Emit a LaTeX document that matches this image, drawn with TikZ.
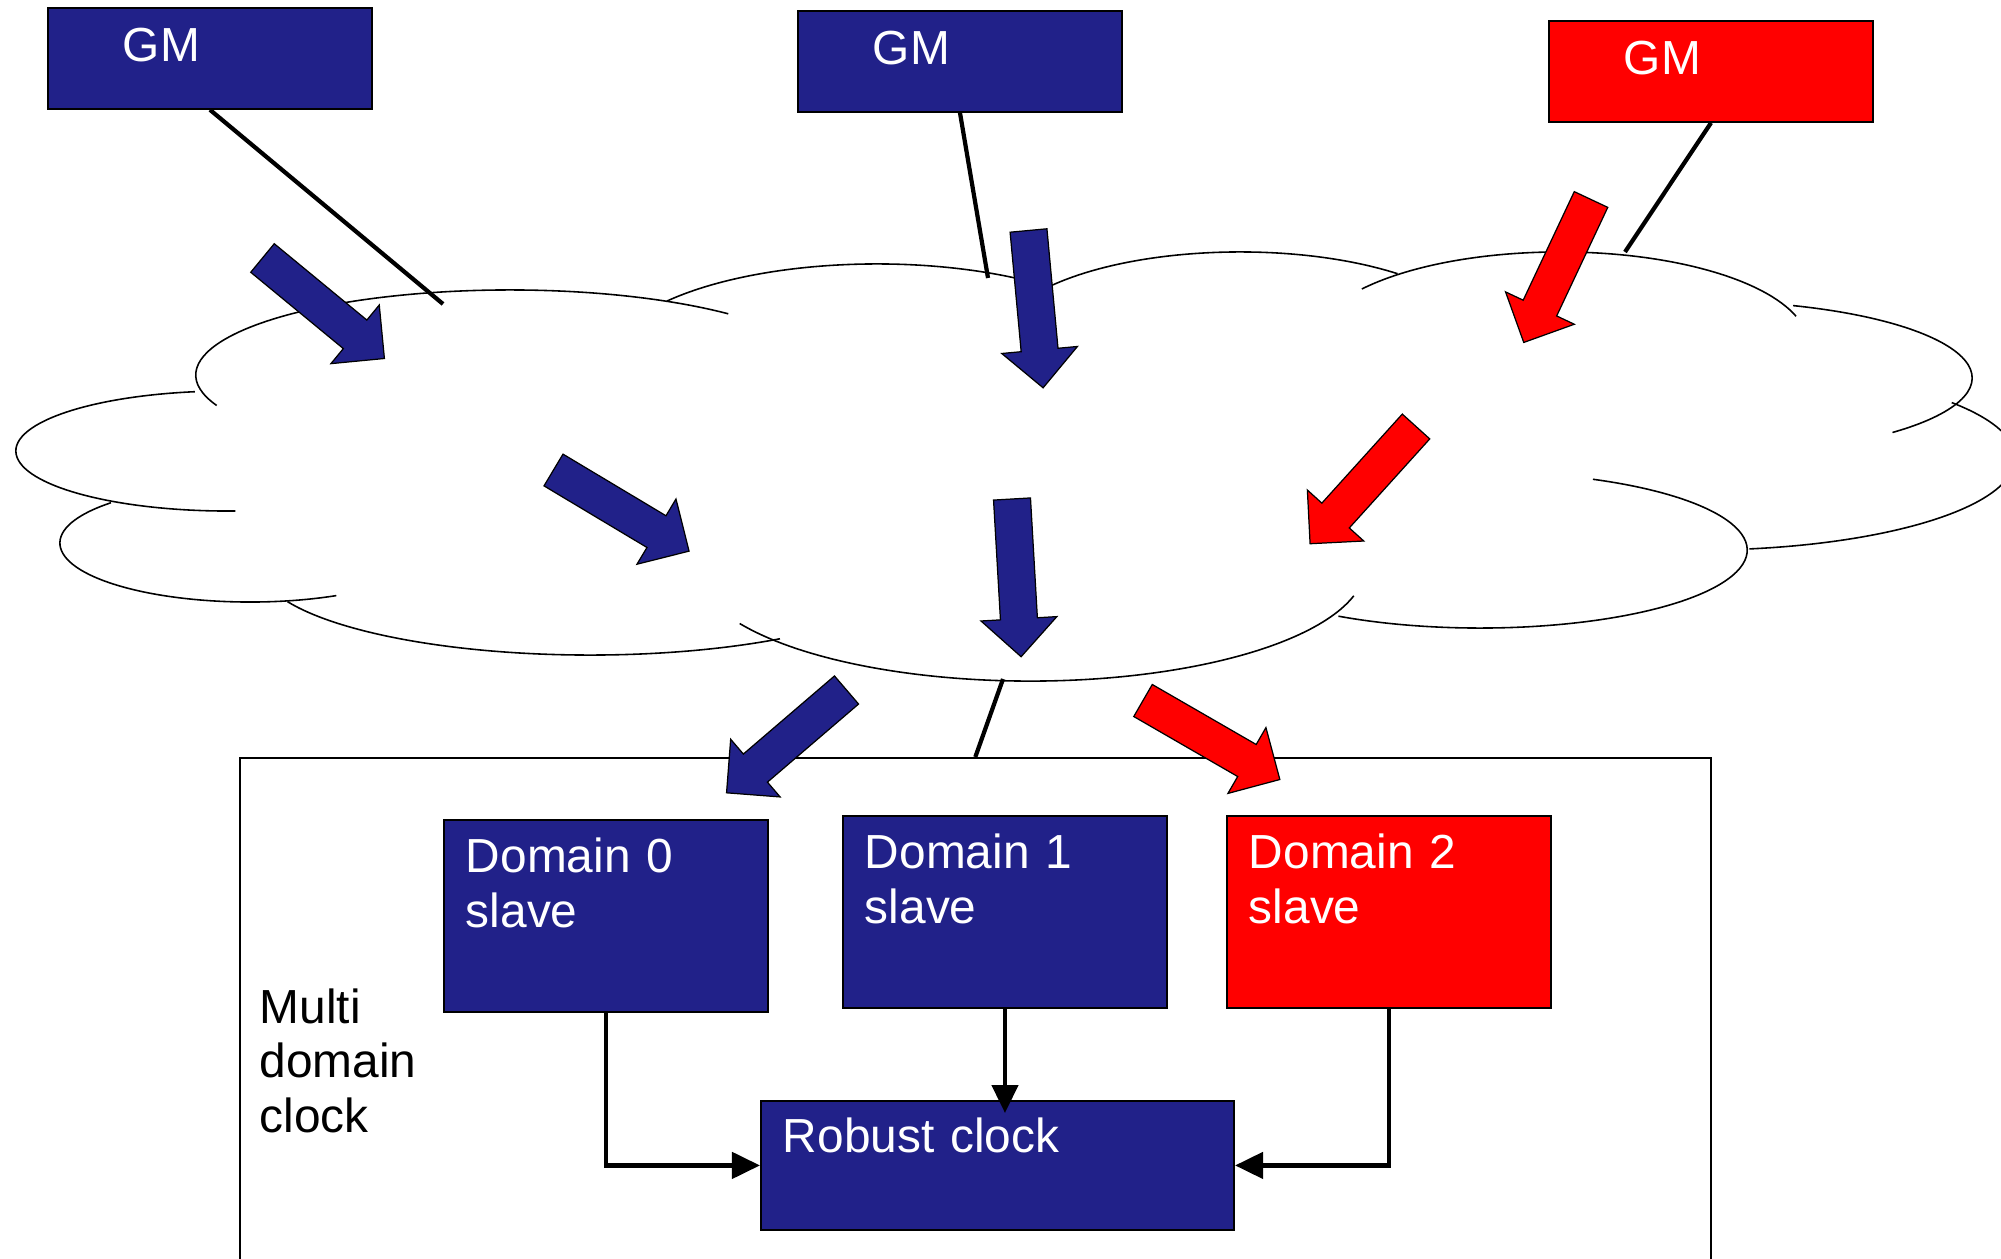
\documentclass[tikz,border=0pt]{standalone}
\usepackage{fontspec}
\setmainfont{Liberation Sans}
\usetikzlibrary{arrows.meta}

\definecolor{navy}{RGB}{33,33,137}
\definecolor{merah}{RGB}{255,0,0}

\tikzset{
  box/.style={draw=black, line width=0.5pt, fill=navy, text=white, anchor=north west,
    inner ysep=0pt, align=left, font=\fontsize{13.6pt}{15.4pt}\selectfont},
  gmbox/.style={box, inner xsep=0.75cm, text width=1.74cm, text height=0.54cm, text depth=0.47cm},
  slavebox/.style={box, inner xsep=0.22cm, text width=2.80cm, text height=0.53cm, text depth=1.39cm},
  cloudline/.style={line width=0.45pt},
  gmline/.style={line width=1.2pt},
  sync/.style={line width=1.3pt, -{Triangle[length=0.28cm,width=0.26cm]}},
  bigarrow/.style={draw=black, line width=0.35pt, fill=#1,
    insert path={(0,-18.5) -- (120,-18.5) -- (120,-38) -- (158,0) -- (120,38) -- (120,18.5) -- (0,18.5) -- cycle}},
}

\begin{document}
\begin{tikzpicture}[x=0.01cm, y=-0.01cm]
    \useasboundingbox (0,0) rectangle (2001,1258);
    \clip (0,0) rectangle (2001,1258);

    % Gambar awan (jaringan)
    \draw[cloudline] ([shift={(201:3.14cm and 0.85cm)}]510,375) arc[start angle=201, end angle=46, x radius=3.14cm, y radius=0.85cm];
    \draw[cloudline] ([shift={(141:2.70cm and 1.00cm)}]877,364) arc[start angle=141, end angle=50, x radius=2.70cm, y radius=1.00cm];
    \draw[cloudline] ([shift={(140:2.45cm and 0.93cm)}]1240,345) arc[start angle=140, end angle=50, x radius=2.45cm, y radius=0.93cm];
    \draw[cloudline] ([shift={(143:2.48cm and 0.93cm)}]1560,345) arc[start angle=143, end angle=18, x radius=2.48cm, y radius=0.93cm];
    \draw[cloudline] ([shift={(70:2.72cm and 0.77cm)}]1700,378) arc[start angle=70, end angle=-45, x radius=2.72cm, y radius=0.77cm];
    \draw[cloudline] ([shift={(37:3.15cm and 0.92cm)}]1700,458) arc[start angle=37, end angle=-81, x radius=3.15cm, y radius=0.92cm];
    \draw[cloudline] ([shift={(65:2.67cm and 0.78cm)}]1480,550) arc[start angle=65, end angle=-122, x radius=2.67cm, y radius=0.78cm];
    \draw[cloudline] ([shift={(210:3.35cm and 1.15cm)}]1030,566) arc[start angle=210, end angle=345, x radius=3.35cm, y radius=1.15cm];
    \draw[cloudline] ([shift={(204:3.31cm and 0.90cm)}]590,565) arc[start angle=204, end angle=305, x radius=3.31cm, y radius=0.90cm];
    \draw[cloudline] ([shift={(137:1.90cm and 0.59cm)}]250,543) arc[start angle=137, end angle=297, x radius=1.90cm, y radius=0.59cm];
    \draw[cloudline] ([shift={(99:2.12cm and 0.60cm)}]228,451) arc[start angle=99, end angle=272, x radius=2.12cm, y radius=0.60cm];

    % Titik-titik pada awan
    \coordinate (w1) at (443,304);
    \coordinate (w2) at (988,278);
    \coordinate (w3) at (1625,252);
    \coordinate (wb) at (1003,679);

    % Kotak grandmaster
    \node[gmbox] (gm1) at (47,7) {GM};
    \node[gmbox] (gm2) at (797,10) {GM};
    \node[gmbox, fill=merah] (gm3) at (1548,20) {GM};

    % Garis dari GM ke awan
    \draw[gmline] (gm1.south) -- (w1);
    \draw[gmline] (gm2.south) -- (w2);
    \draw[gmline] (gm3.south) -- (w3);

    % Kotak multi domain clock
    \node[draw=black, line width=0.5pt, anchor=north west, inner sep=0pt,
          minimum width=14.7cm, minimum height=6cm] (mdc) at (239,757) {};
    \draw[gmline] (wb) -- (mdc.north);
    \node[anchor=base west, align=left, inner sep=0pt,
          font=\fontsize{13.6pt}{15.4pt}\selectfont] (label) at (259,1132) {Multi\\domain\\clock};

    % Panah besar (arah sinkronisasi)
    \path[shift={(262.5,258)}, rotate=-39.5, bigarrow=navy];
    \path[shift={(1028.5,230.5)}, rotate=-84.7, bigarrow=navy];
    \path[shift={(553.5,470)}, rotate=-30.9, bigarrow=navy];
    \path[shift={(1012,499)}, rotate=-86.7, bigarrow=navy];
    \path[shift={(846.5,690)}, rotate=-139.4, bigarrow=navy];
    \path[shift={(1591,199.5)}, rotate=-115.2, bigarrow=merah];
    \path[shift={(1416,426.5)}, rotate=-132.1, bigarrow=merah];
    \path[shift={(1143,700.5)}, rotate=-30, bigarrow=merah];

    % Slave tiap domain
    \node[slavebox] (d0) at (443,819) {Domain 0\\slave};
    \node[slavebox] (d1) at (842,815) {Domain 1\\slave};
    \node[slavebox, fill=merah] (d2) at (1226,815) {Domain 2\\slave};

    % Jam robust
    \node[box, inner xsep=0.22cm, text width=4.29cm, text height=0.52cm, text depth=0.77cm] (robust) at (760,1100) {Robust clock};

    % Panah ke jam robust
    \draw[sync] (d0.south) |- (robust.west);
    \draw[sync, shorten >=-0.13cm] (d1.south) -- (d1.south |- robust.north);
    \draw[sync] (d2.south) |- (robust.east);

\end{tikzpicture}
\end{document}
